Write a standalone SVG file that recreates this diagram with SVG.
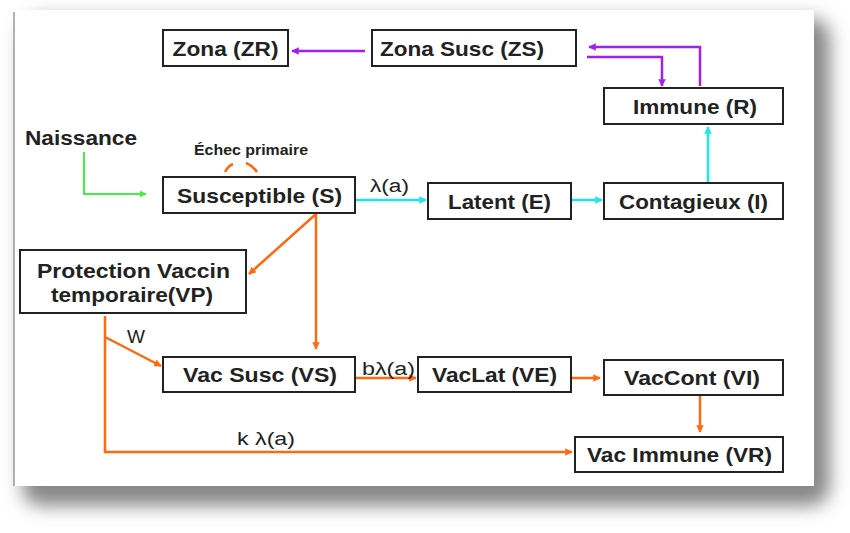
<svg xmlns="http://www.w3.org/2000/svg" width="850" height="533" viewBox="0 0 850 533">
<style>
.box{fill:#fff;stroke:#222;stroke-width:2}
.t{font-family:"Liberation Sans",Arial,sans-serif;font-weight:bold;font-size:21px;fill:#222;text-anchor:middle}
.l{font-family:"Liberation Sans",Arial,sans-serif;font-size:18px;fill:#222}
.p{fill:none;stroke:#a020f0;stroke-width:2.5}
.c{fill:none;stroke:#1ee6f0;stroke-width:2.5}
.g{fill:none;stroke:#44ee44;stroke-width:2}
.o{fill:none;stroke:#ff6a10;stroke-width:2.5}
</style>
<defs>
<filter id="sh" x="-10%" y="-10%" width="130%" height="130%"><feGaussianBlur stdDeviation="9"/></filter>
<marker id="mp" viewBox="0 0 10 10" refX="9" refY="5" markerWidth="3" markerHeight="3" orient="auto"><path d="M0,0L10,5L0,10z" fill="#a020f0"/></marker>
<marker id="mc" viewBox="0 0 10 10" refX="9" refY="5" markerWidth="3" markerHeight="3" orient="auto"><path d="M0,0L10,5L0,10z" fill="#1ee6f0"/></marker>
<marker id="mg" viewBox="0 0 10 10" refX="9" refY="5" markerWidth="3.5" markerHeight="3.5" orient="auto"><path d="M0,0L10,5L0,10z" fill="#44ee44"/></marker>
<marker id="mo" viewBox="0 0 10 10" refX="9" refY="5" markerWidth="3" markerHeight="3" orient="auto"><path d="M0,0L10,5L0,10z" fill="#ff6a10"/></marker>
</defs>
<rect width="850" height="533" fill="#fff"/>
<rect x="22" y="18" width="808" height="488" rx="20" fill="#888" filter="url(#sh)"/>
<rect x="14" y="10" width="800" height="476" fill="#fff"/>
<line x1="14" y1="12" x2="14" y2="486" stroke="#999" stroke-width="1.5"/>

<g id="connectors">
<path class="p" d="M365,51H292" marker-end="url(#mp)"/>
<path class="p" d="M700,86V47H589" marker-end="url(#mp)"/>
<path class="p" d="M587,57H662V86" marker-end="url(#mp)"/>
<path class="c" d="M356,200H426" marker-end="url(#mc)"/>
<path class="c" d="M572,200H602" marker-end="url(#mc)"/>
<path class="c" d="M708,182V127" marker-end="url(#mc)"/>
<path class="g" d="M84,152V194H146" marker-end="url(#mg)"/>
<path class="o" d="M225,172Q228,166 233,164" stroke-width="3"/>
<path class="o" d="M246,163Q253,166 257,172" stroke-width="3"/>
<path class="o" d="M316,214L249,274" marker-end="url(#mo)"/>
<path class="o" d="M316,214V349" marker-end="url(#mo)"/>
<path class="o" d="M105,316V452H572" marker-end="url(#mo)"/>
<path class="o" d="M105,337L161,366" marker-end="url(#mo)"/>
<path class="o" d="M356,378H416" marker-end="url(#mo)"/>
<path class="o" d="M572,378H600" marker-end="url(#mo)"/>
<path class="o" d="M700,396V432" marker-end="url(#mo)"/>
<text class="l" x="370" y="192" textLength="39" lengthAdjust="spacingAndGlyphs">λ(a)</text>
<text class="l" x="362" y="375" textLength="53" lengthAdjust="spacingAndGlyphs">bλ(a)</text>
<text class="l" x="127" y="343" style="font-size:19px">W</text>
<text class="l" x="237" y="445" textLength="58" lengthAdjust="spacingAndGlyphs">k λ(a)</text>
</g>

<g id="naissance"><text class="t" x="81" y="145" style="font-size:20px" textLength="112" lengthAdjust="spacingAndGlyphs">Naissance</text></g>
<g id="echec"><text class="t" x="251" y="155" style="font-size:15px" textLength="114" lengthAdjust="spacingAndGlyphs">Échec primaire</text></g>

<g id="ZR"><rect class="box" x="163" y="30" width="125" height="36"/><text class="t" x="225.5" y="56" textLength="106" lengthAdjust="spacingAndGlyphs">Zona (ZR)</text></g>
<g id="ZS"><rect class="box" x="372" y="30" width="204" height="36"/><text class="t" x="462" y="56" textLength="164" lengthAdjust="spacingAndGlyphs">Zona Susc (ZS)</text></g>
<g id="R"><rect class="box" x="604" y="88" width="179" height="36"/><text class="t" x="695" y="114" textLength="124" lengthAdjust="spacingAndGlyphs">Immune (R)</text></g>
<g id="S"><rect class="box" x="163" y="177" width="192" height="36"/><text class="t" x="259.5" y="203" textLength="165" lengthAdjust="spacingAndGlyphs">Susceptible (S)</text></g>
<g id="E"><rect class="box" x="428" y="183" width="143" height="36"/><text class="t" x="499.5" y="209" textLength="103" lengthAdjust="spacingAndGlyphs">Latent (E)</text></g>
<g id="I"><rect class="box" x="604" y="183" width="179" height="36"/><text class="t" x="693.5" y="209" textLength="149" lengthAdjust="spacingAndGlyphs">Contagieux (I)</text></g>
<g id="VP"><rect class="box" x="20" y="250" width="226" height="63"/><text class="t" x="133.5" y="278" textLength="193" lengthAdjust="spacingAndGlyphs">Protection Vaccin</text><text class="t" x="132" y="302" textLength="162" lengthAdjust="spacingAndGlyphs">temporaire(VP)</text></g>
<g id="VS"><rect class="box" x="163" y="357" width="192" height="35"/><text class="t" x="260" y="382" textLength="154" lengthAdjust="spacingAndGlyphs">Vac Susc (VS)</text></g>
<g id="VE"><rect class="box" x="418" y="357" width="153" height="35"/><text class="t" x="494.5" y="382" textLength="125" lengthAdjust="spacingAndGlyphs">VacLat (VE)</text></g>
<g id="VI"><rect class="box" x="604" y="360" width="179" height="35"/><text class="t" x="692" y="385" textLength="136" lengthAdjust="spacingAndGlyphs">VacCont (VI)</text></g>
<g id="VR"><rect class="box" x="575" y="437" width="208" height="35"/><text class="t" x="679.5" y="462" textLength="185" lengthAdjust="spacingAndGlyphs">Vac Immune (VR)</text></g>
</svg>
